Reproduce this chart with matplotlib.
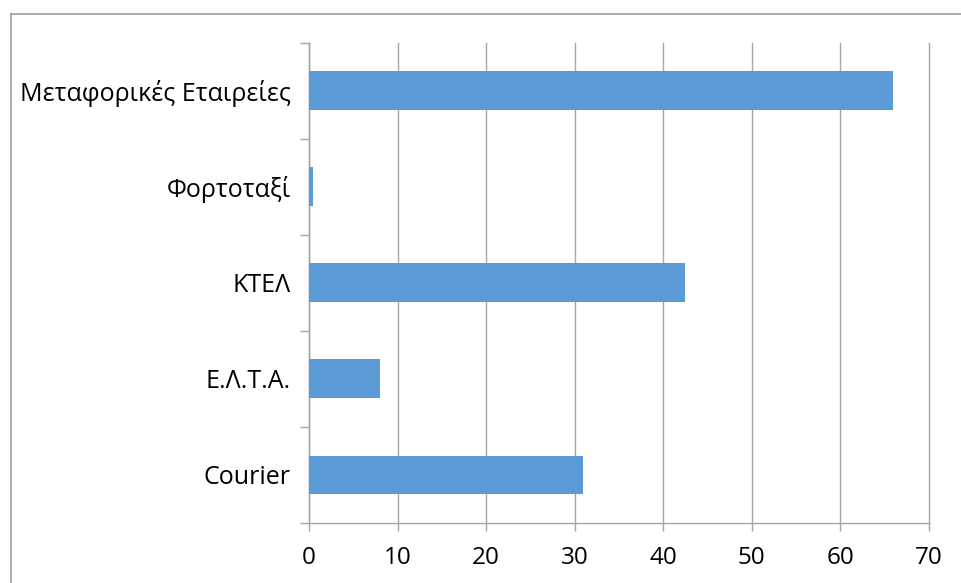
import matplotlib
matplotlib.use("Agg")
import matplotlib.pyplot as plt
from matplotlib.lines import Line2D

categories = ["Courier", "Ε.Λ.Τ.Α.", "ΚΤΕΛ", "Φορτοταξί", "Μεταφορικές Εταιρείες"]
values = [31, 8, 42.5, 0.4, 66]
xticks = [0, 10, 20, 30, 40, 50, 60, 70]

plt.rcParams['font.family'] = ['Open Sans', 'DejaVu Sans']

W, H = 962, 583
fig = plt.figure(figsize=(W / 100, H / 100), dpi=100)
ax = fig.add_axes([309 / W, 1 - 522.7 / H, (928.7 - 309) / W, (522.7 - 42.7) / H])

grid_c = "#A6A6A6"
ax.barh(range(len(categories)), values, height=0.4, color="#5B9BD5", zorder=3)
ax.set_xlim(0, 70)
ax.set_ylim(-0.5, len(categories) - 0.5)
ax.set_xticks(xticks)
ax.set_xticklabels([str(t) for t in xticks])
ax.xaxis.grid(True, color=grid_c, linewidth=1.0, zorder=0)
for gl in ax.get_xgridlines():
    gl.set_clip_on(False)
ax.set_axisbelow(True)

ax.set_yticks(range(len(categories)))
ax.set_yticklabels(categories)
ax.set_yticks([i - 0.5 for i in range(len(categories) + 1)], minor=True)
ax.tick_params(axis='y', which='major', length=0, pad=13, labelsize=18, labelcolor="#000000")
ax.tick_params(axis='y', which='minor', length=6.5, width=1.0, color=grid_c, direction='out')
ax.tick_params(axis='x', which='major', length=6, width=1.0, color=grid_c, direction='out',
               pad=11, labelsize=17.5, labelcolor="#000000")

for s in ["top", "right"]:
    ax.spines[s].set_visible(False)
for s in ["left", "bottom"]:
    ax.spines[s].set_color(grid_c)
    ax.spines[s].set_linewidth(1.0)

# outer chart border
bx, by = 11 / W, 1 - 14 / H
fig.add_artist(Line2D([bx, bx], [0, by], transform=fig.transFigure, color="#A0A0A0", linewidth=1.2))
fig.add_artist(Line2D([bx, 1], [by, by], transform=fig.transFigure, color="#A0A0A0", linewidth=1.2))

fig.savefig("out.png", dpi=100)
